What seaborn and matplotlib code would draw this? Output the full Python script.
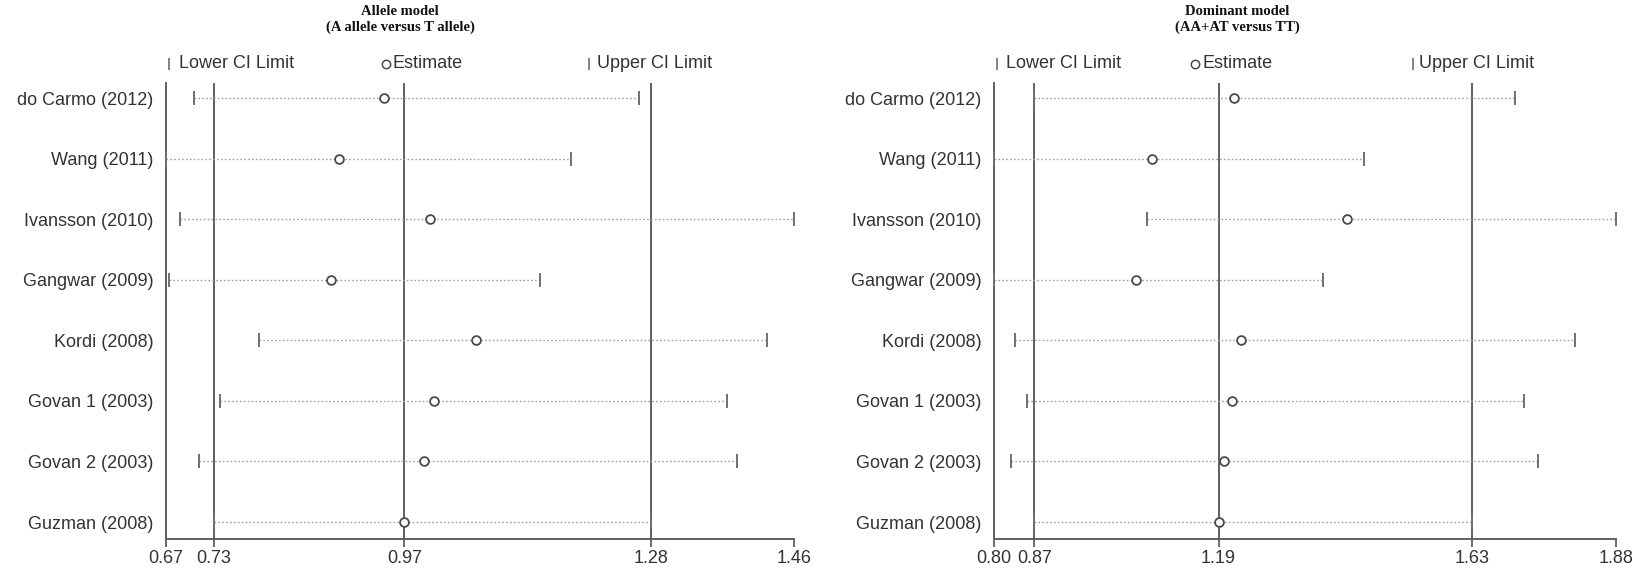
import matplotlib
matplotlib.use("Agg")
import matplotlib.pyplot as plt
import seaborn as sns
import pandas as pd

# ---------------- data ----------------
studies = ["do Carmo (2012)", "Wang (2011)", "Ivansson (2010)", "Gangwar (2009)",
           "Kordi (2008)", "Govan 1 (2003)", "Govan 2 (2003)", "Guzman (2008)"]

allele_title = "Allele model\n(A allele versus T allele)"
allele_est = [0.944, 0.888, 1.002, 0.877, 1.060, 1.007, 0.994, 0.97]
allele_lower = [0.705, 0.670, 0.688, 0.674, 0.787, 0.738, 0.711, 0.73]
allele_upper = [1.265, 1.180, 1.460, 1.140, 1.426, 1.376, 1.388, 1.28]
allele_overall = [0.73, 0.97, 1.28]
allele_ticks = [0.67, 0.73, 0.97, 1.28, 1.46]

dominant_title = "Dominant model\n(AA+AT versus TT)"
dominant_est = [1.216, 1.074, 1.413, 1.047, 1.229, 1.213, 1.200, 1.19]
dominant_lower = [0.87, 0.80, 1.066, 0.80, 0.837, 0.857, 0.829, 0.87]
dominant_upper = [1.705, 1.443, 1.880, 1.371, 1.809, 1.720, 1.744, 1.63]
dominant_overall = [0.87, 1.19, 1.63]
dominant_ticks = [0.80, 0.87, 1.19, 1.63, 1.88]

legend_labels = ["Lower CI Limit", "Estimate", "Upper CI Limit"]

# ---------------- style ----------------
sns.set_theme(style="white")
plt.rcParams["font.family"] = ["Liberation Sans", "DejaVu Sans"]

LINE = "#606060"
DOT = "#a0a0a0"
CAP = "#707070"
TXT = "#333333"

W, H = 1648, 569
fig = plt.figure(figsize=(W / 100, H / 100), dpi=100)

panels = [
    dict(rect=[166 / W, 1 - 539 / H, 628 / W, 456 / H], title=allele_title, tx=400 / W,
         est=allele_est, lo=allele_lower, hi=allele_upper, overall=allele_overall,
         ticks=allele_ticks,
         leg=[(0.005, 0.021), (0.350, 0.361), (0.673, 0.686)]),
    dict(rect=[994 / W, 1 - 539 / H, 622 / W, 456 / H], title=dominant_title, tx=1237 / W,
         est=dominant_est, lo=dominant_lower, hi=dominant_upper, overall=dominant_overall,
         ticks=dominant_ticks,
         leg=[(0.005, 0.019), (0.323, 0.335), (0.673, 0.683)]),
]

for p in panels:
    ax = fig.add_axes(p["rect"])
    df = pd.DataFrame({"study": studies, "est": p["est"], "lo": p["lo"], "hi": p["hi"]})
    df["pos"] = range(len(df))

    for v in p["overall"]:
        ax.axvline(v, color=LINE, lw=1.4, zorder=1)

    ax.hlines(df["pos"], df["lo"], df["hi"], color=DOT, lw=1.0,
              linestyle=(0, (1.2, 1.6)), zorder=2)
    ax.plot(df["lo"], df["pos"], ls="none", marker="|", ms=10, mew=1.4,
            color=CAP, clip_on=False, zorder=3)
    ax.plot(df["hi"], df["pos"], ls="none", marker="|", ms=10, mew=1.4,
            color=CAP, clip_on=False, zorder=3)
    sns.scatterplot(data=df, x="est", y="pos", ax=ax, marker="o", s=40,
                    facecolor="white", edgecolor="#4a4a4a", linewidth=1.3,
                    zorder=5, clip_on=False)

    ax.set_xlim(p["ticks"][0], p["ticks"][-1])
    ax.set_ylim(7.28, -0.25)
    ax.set_xticks(p["ticks"])
    ax.set_xticklabels([f"{t:.2f}" for t in p["ticks"]])
    ax.set_yticks(df["pos"])
    ax.set_yticklabels(studies)
    ax.set_xlabel("")
    ax.set_ylabel("")
    ax.tick_params(axis="x", direction="out", length=6, width=1.3, color=LINE,
                   labelsize=13, labelcolor=TXT, pad=2, bottom=True)
    ax.tick_params(axis="y", length=0, pad=9, labelsize=13, labelcolor=TXT)
    for s in ["top", "right"]:
        ax.spines[s].set_visible(False)
    for s in ["left", "bottom"]:
        ax.spines[s].set_color(LINE)
        ax.spines[s].set_linewidth(1.4)

    # legend row above the plot
    ly = 1.042
    (m1, t1), (m2, t2), (m3, t3) = p["leg"]
    ax.plot([m1], [ly], transform=ax.transAxes, marker="|", ms=9, mew=1.2,
            color=CAP, clip_on=False)
    ax.plot([m2], [ly], transform=ax.transAxes, marker="o", ms=6, mew=1.1,
            mfc="white", mec="#4a4a4a", clip_on=False)
    ax.plot([m3], [ly], transform=ax.transAxes, marker="|", ms=9, mew=1.2,
            color=CAP, clip_on=False)
    for tx, lab in zip([t1, t2, t3], legend_labels):
        ax.text(tx, ly, lab, transform=ax.transAxes, ha="left", va="center",
                fontsize=13, color=TXT)

    fig.text(p["tx"], 1 - 5 / H, p["title"], ha="center", va="top",
             family=["Liberation Serif", "DejaVu Serif"], weight="bold",
             fontsize=10.5, linespacing=1.2, color="#111111")

fig.savefig("out.png", dpi=100, facecolor="white")
